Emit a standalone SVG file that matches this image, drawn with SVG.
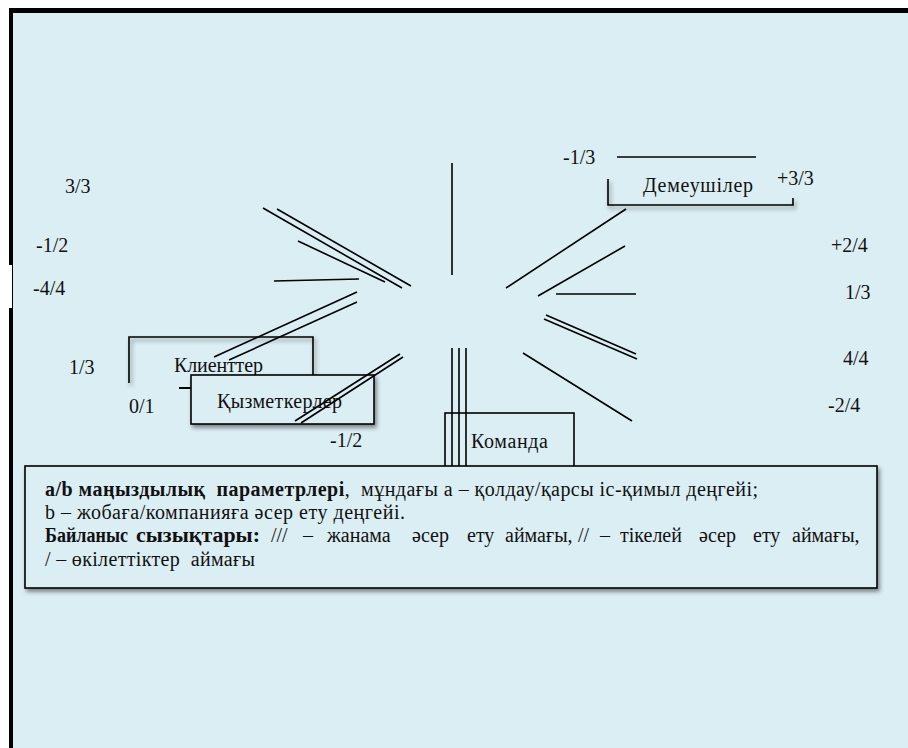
<svg xmlns="http://www.w3.org/2000/svg" width="908" height="748" viewBox="0 0 908 748" font-family="'Liberation Serif','Times New Roman',serif">
<defs>
<filter id="sh" x="-10%" y="-10%" width="130%" height="140%">
<feDropShadow dx="2" dy="3" stdDeviation="2" flood-color="#000" flood-opacity="0.45"/>
</filter>
<style>
text{font-family:"Liberation Serif","Times New Roman",serif;font-size:20px;fill:#111;}
.ln line{stroke:#000;stroke-width:1.6;}
.box{fill:#dbeef4;stroke:#000;stroke-width:1.6;}
.br{fill:none;stroke:#000;stroke-width:1.6;}
.b{font-weight:bold;}
</style>
</defs>
<rect x="0" y="0" width="908" height="748" fill="#fff"/>
<rect x="9" y="8" width="899" height="740" fill="#000"/>
<rect x="13" y="13" width="895" height="735" fill="#dbeef4"/>
<rect x="9" y="265" width="3" height="43" fill="#fff"/>

<g id="labels">
<text x="65" y="193">3/3</text>
<text x="36" y="252">-1/2</text>
<text x="33" y="295">-4/4</text>
<text x="69" y="374">1/3</text>
<text x="129" y="413">0/1</text>
<text x="330" y="447">-1/2</text>
<text x="563" y="164">-1/3</text>
<text x="777" y="185">+3/3</text>
<text x="831" y="252">+2/4</text>
<text x="845" y="299">1/3</text>
<text x="843" y="365">4/4</text>
<text x="828" y="412">-2/4</text>
</g>

<g id="node-demeushiler">
<path class="br" d="M608,179 V205 H793 V198" filter="url(#sh)"/>
<text x="643" y="192" textLength="110">Демеушілер</text>
</g>

<g id="node-klientter">
<path class="br" d="M129,383 V337 H313 V376" filter="url(#sh)"/>
<line x1="179" y1="388" x2="191" y2="388" stroke="#000" stroke-width="2"/>
<text x="174" y="372" textLength="89">Клиенттер</text>
</g>

<g class="ln" id="connectors-a">
<line x1="263" y1="208" x2="402" y2="288"/>
<line x1="277" y1="209" x2="411" y2="286"/>
<line x1="298" y1="241" x2="385" y2="282"/>
<line x1="274" y1="281" x2="359" y2="279"/>
<line x1="357" y1="292" x2="214" y2="357"/>
<line x1="357" y1="302" x2="229" y2="360"/>
<line x1="452" y1="163" x2="452" y2="275"/>
<line x1="617" y1="157" x2="756" y2="157"/>
<line x1="626" y1="209" x2="506" y2="288"/>
<line x1="625" y1="246" x2="538" y2="296"/>
<line x1="556" y1="294" x2="636" y2="294"/>
<line x1="546" y1="315" x2="636" y2="354"/>
<line x1="544" y1="319" x2="637" y2="359"/>
<line x1="523" y1="353" x2="632" y2="421"/>
</g>

<g id="node-qyzmetkerler">
<rect class="box" x="191" y="375" width="183" height="49" filter="url(#sh)"/>
<text x="217" y="408" textLength="125">Қызметкерлер</text>
</g>

<g id="node-komanda">
<rect class="box" x="445" y="413" width="129" height="60"/>
<text x="471" y="448" textLength="77">Команда</text>
</g>

<g class="ln" id="connectors-b">
<line x1="400" y1="354" x2="295" y2="421"/>
<line x1="403" y1="357" x2="301" y2="423"/>
<line x1="452" y1="348" x2="452" y2="468"/>
<line x1="459" y1="348" x2="459" y2="468"/>
<line x1="466" y1="348" x2="466" y2="468"/>
</g>

<g id="legend">
<rect class="box" x="25" y="466" width="852" height="122" filter="url(#sh)"/>
<text x="45" y="496" xml:space="preserve" textLength="713" lengthAdjust="spacing"><tspan class="b">a/b маңыздылық  параметрлері</tspan>,  мұндағы a – қолдау/қарсы іс-қимыл деңгейі;</text>
<text x="45" y="519" textLength="360" lengthAdjust="spacing">b – жобаға/компанияға әсер ету деңгейі.</text>
<text x="45" y="542" class="b" textLength="83" lengthAdjust="spacingAndGlyphs">Байланыс</text>
<text x="136" y="542" class="b" textLength="124" lengthAdjust="spacingAndGlyphs">сызықтары:</text>
<text y="542"><tspan x="271">///</tspan><tspan x="303">–</tspan><tspan x="327">жанама</tspan><tspan x="412">әсер</tspan><tspan x="467">ету</tspan><tspan x="505">аймағы,</tspan><tspan x="578">//</tspan><tspan x="600">–</tspan><tspan x="620">тікелей</tspan><tspan x="699">әсер</tspan><tspan x="753">ету</tspan><tspan x="792">аймағы,</tspan></text>
<text x="45" y="566" xml:space="preserve" textLength="210" lengthAdjust="spacing">/ – өкілеттіктер  аймағы</text>
</g>
</svg>
